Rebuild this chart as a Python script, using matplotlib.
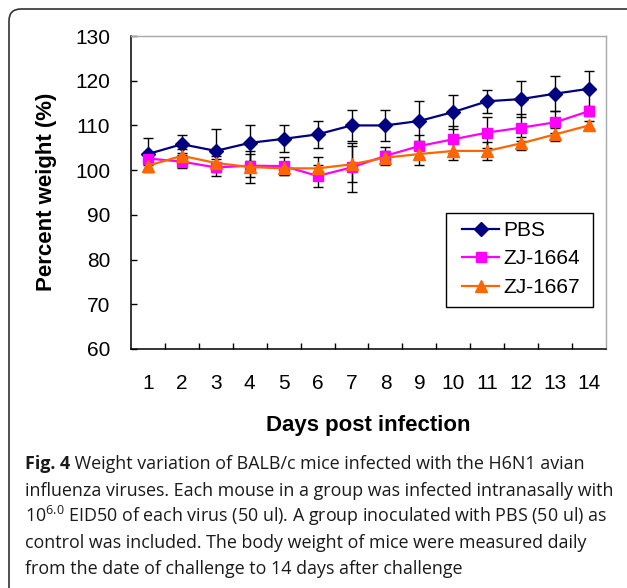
import matplotlib
matplotlib.use("Agg")
import matplotlib.pyplot as plt
from matplotlib.patches import FancyBboxPatch, Rectangle
from matplotlib.transforms import IdentityTransform
import numpy as np

# ── Data ───────────────────────────────────────────────────────────────────
days = np.arange(1, 15)
pbs = [103.6, 105.8, 104.3, 106.1, 107.0, 108.0, 110.0,
       110.0, 111.0, 113.0, 115.4, 115.9, 117.1, 118.2]
pbs_err = [3.6, 2.0, 4.8, 4.0, 3.0, 3.0, 3.4, 3.5, 4.4, 3.7, 2.6, 4.0, 3.9, 3.9]
zj1664 = [102.6, 101.9, 100.6, 101.0, 100.9, 98.7, 100.6,
          103.2, 105.4, 106.9, 108.4, 109.5, 110.7, 113.2]
zj1664_err = [1.5, 1.5, 1.8, 2.5, 2.0, 2.5, 5.5, 2.0, 2.5, 3.0, 3.5, 3.0, 2.5, 1.0]
zj1667 = [101.0, 103.2, 101.6, 100.7, 100.4, 100.4, 101.3,
          102.8, 103.6, 104.3, 104.3, 106.0, 108.0, 110.0]
zj1667_err = [1.5, 1.5, 1.5, 3.5, 1.5, 2.5, 4.0, 1.5, 2.5, 2.0, 2.0, 1.5, 1.5, 1.0]
series_names = ["PBS", "ZJ-1664", "ZJ-1667"]
yticks = [60, 70, 80, 90, 100, 110, 120, 130]

caption_head = "Fig. 4"
caption = [
    " Weight variation of BALB/c mice infected with the H6N1 avian",
    "influenza viruses. Each mouse in a group was infected intranasally with",
    r"10$^{6.0}$ EID50 of each virus (50 ul). A group inoculated with PBS (50 ul) as",
    "control was included. The body weight of mice were measured daily",
    "from the date of challenge to 14 days after challenge",
]

NAVY = "#000080"
MAGENTA = "#FF00FF"
ORANGE = "#FF6600"

plt.rcParams["font.family"] = ["Liberation Sans", "DejaVu Sans"]
plt.rcParams["mathtext.fontset"] = "custom"
plt.rcParams["mathtext.rm"] = "Open Sans"
plt.rcParams["mathtext.it"] = "Open Sans"
plt.rcParams["mathtext.bf"] = "Open Sans:bold"

W, H = 627, 588
fig = plt.figure(figsize=(W / 100, H / 100), dpi=100, facecolor="white")
ax = fig.add_axes([131 / W, 1 - 349 / H, 475 / W, 313 / H])

styles = [
    (pbs, pbs_err, NAVY, "D", 7.5),
    (zj1664, zj1664_err, MAGENTA, "s", 7),
    (zj1667, zj1667_err, ORANGE, "^", 8),
]
for (vals, err, col, mk, ms), name in zip(styles, series_names):
    ax.errorbar(days, vals, yerr=err, fmt="none", ecolor="black",
                elinewidth=1.0, capsize=3.5, capthick=1.0, zorder=2)
for (vals, err, col, mk, ms), name in zip(styles, series_names):
    ax.plot(days, vals, color=col, lw=1.6, marker=mk, ms=ms,
            mfc=col, mec=col, label=name, zorder=3)

ax.set_xlim(0.5, 14.5)
ax.set_ylim(60, 130)
ax.set_xticks(days)
ax.set_xticklabels([str(d) for d in days], fontsize=15)
ax.set_xticks(np.arange(1.5, 14.5, 1), minor=True)
ax.tick_params(axis="x", which="major", length=0, pad=18)
ax.tick_params(axis="x", which="minor", direction="in", length=4, width=1)
ax.set_yticks(yticks)
ax.set_yticklabels([str(v) for v in yticks], fontsize=15)
ax.tick_params(axis="y", direction="in", length=4, width=1, pad=15)
for side in ("left", "bottom"):
    ax.spines[side].set_color("black")
    ax.spines[side].set_linewidth(1.1)
for side in ("top", "right"):
    ax.spines[side].set_color("#A8A8A8")
    ax.spines[side].set_linewidth(1.0)

fig.text(368 / W, 1 - 425 / H, "Days post infection", ha="center", va="center",
         fontsize=16, fontweight="bold")
fig.text(47 / W, 1 - 192 / H, "Percent weight (%)", ha="center", va="center",
         rotation=90, fontsize=16, fontweight="bold")

# legend: frameless legend centred in a separately drawn box
legbox = Rectangle((446, H - 307), 147, 94, transform=IdentityTransform(),
                   facecolor="white", edgecolor="black", linewidth=1.0,
                   zorder=4, clip_on=False)
ax.add_patch(legbox)
leg = ax.legend(loc="center", bbox_to_anchor=(521 / W, 1 - 259 / H),
                bbox_transform=fig.transFigure, borderaxespad=0, borderpad=0,
                fontsize=15, frameon=False, handlelength=1.75,
                handletextpad=0.2, labelspacing=0.45)
leg.set_zorder(5)

# caption, sized so the widest line spans the same width as the reference
r = fig.canvas.get_renderer()
probe = fig.text(0, 0, caption[1], fontsize=12, family="Open Sans")
fs = 12 * 587 / probe.get_window_extent(r).width
probe.remove()

base_y = [469, 496, 522, 548, 574]
x0 = 25
head = fig.text(x0 / W, 1 - base_y[0] / H, caption_head, ha="left", va="baseline",
                fontsize=fs, family="Open Sans", fontweight="bold", color="#1a1a1a")
head_w = head.get_window_extent(r).width
for i, (line, y) in enumerate(zip(caption, base_y)):
    x = x0 + head_w if i == 0 else x0
    fig.text(x / W, 1 - y / H, line, ha="left", va="baseline",
             fontsize=fs, family="Open Sans", color="#1a1a1a")

frame = FancyBboxPatch((9, -30), 640, 609, boxstyle="round,pad=0,rounding_size=12",
                       transform=IdentityTransform(), facecolor="none",
                       edgecolor="#333333", linewidth=1.2)
fig.add_artist(frame)

fig.savefig("out.png", dpi=100, facecolor="white")
